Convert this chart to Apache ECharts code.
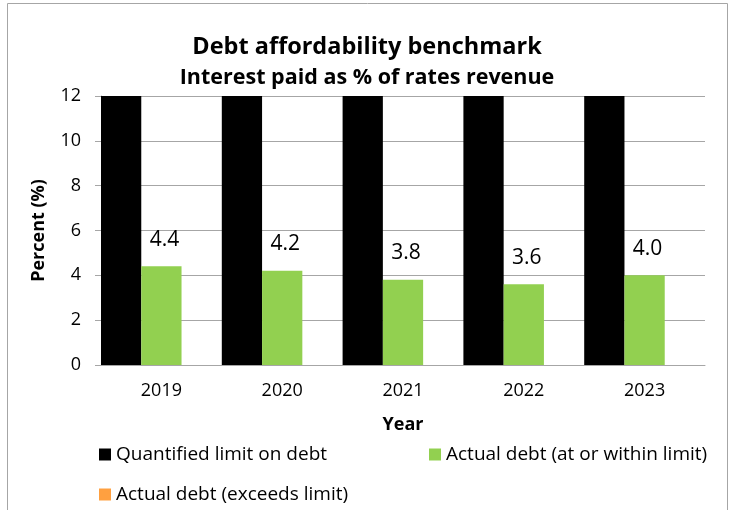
<!DOCTYPE html>
<html>
<head>
<meta charset="utf-8">
<script src="https://cdn.jsdelivr.net/npm/echarts@6/dist/echarts.min.js"></script>
<style>
  html, body { margin: 0; padding: 0; background: #fff; }
  #chart { width: 734px; height: 510px; }
</style>
</head>
<body>
<div id="chart"></div>
<script>
  // data
  var years = ['2019', '2020', '2021', '2022', '2023'];
  var limitValues = [12, 12, 12, 12, 12];
  var actualValues = [4.4, 4.2, 3.8, 3.6, 4.0];
  var exceedsValues = [null, null, null, null, null];
  var yTicks = [0, 2, 4, 6, 8, 10, 12];

  var font = 'Open Sans';
  var chart = echarts.init(document.getElementById('chart'));

  chart.setOption({
    animation: false,
    backgroundColor: '#fff',
    textStyle: { fontFamily: font, color: '#000' },
    graphic: [
      {
        type: 'rect',
        shape: { x: 7.5, y: 3.5, width: 720, height: 520 },
        style: { fill: 'none', stroke: '#a6a6a6', lineWidth: 1 },
        silent: true
      }
    ],
    title: [
      {
        text: 'Debt affordability benchmark',
        left: 'center',
        top: 30,
        textStyle: { fontFamily: font, fontSize: 23.5, fontWeight: 'bold', color: '#000' }
      },
      {
        text: 'Interest paid as % of rates revenue',
        left: 'center',
        top: 62,
        textStyle: { fontFamily: font, fontSize: 21.5, fontWeight: 'bold', color: '#000' }
      }
    ],
    legend: [
      {
        data: ['Quantified limit on debt'],
        left: 94, top: 440,
        itemWidth: 12, itemHeight: 12,
        icon: 'rect',
        textStyle: { fontFamily: font, fontSize: 19, color: '#000' }
      },
      {
        data: ['Actual debt (at or within limit)'],
        left: 424, top: 440,
        itemWidth: 12, itemHeight: 12,
        icon: 'rect',
        textStyle: { fontFamily: font, fontSize: 19, color: '#000' }
      },
      {
        data: ['Actual debt (exceeds limit)'],
        left: 94, top: 480,
        itemWidth: 12, itemHeight: 12,
        icon: 'rect',
        textStyle: { fontFamily: font, fontSize: 19, color: '#000' }
      }
    ],
    grid: { left: 101, right: 29, top: 96, bottom: 145 },
    xAxis: {
      type: 'category',
      data: years,
      name: 'Year',
      nameLocation: 'middle',
      nameGap: 51,
      nameTextStyle: { fontFamily: font, fontSize: 18, fontWeight: 'bold', color: '#000' },
      axisLine: { lineStyle: { color: '#a6a6a6' } },
      axisTick: { show: false },
      axisLabel: { fontFamily: font, fontSize: 18, color: '#000', margin: 17 }
    },
    yAxis: {
      type: 'value',
      min: yTicks[0],
      max: yTicks[yTicks.length - 1],
      interval: 2,
      name: 'Percent (%)',
      nameLocation: 'middle',
      nameGap: 53,
      nameTextStyle: { fontFamily: font, fontSize: 18, fontWeight: 'bold', color: '#000' },
      axisLine: { show: true, lineStyle: { color: '#a6a6a6' } },
      axisTick: { show: true, length: 6, lineStyle: { color: '#a6a6a6' } },
      axisLabel: { fontFamily: font, fontSize: 18, color: '#000', margin: 20 },
      splitLine: { lineStyle: { color: '#a6a6a6' } }
    },
    series: [
      {
        name: 'Quantified limit on debt',
        type: 'bar',
        data: limitValues,
        barGap: '0%',
        barCategoryGap: '0%',
        itemStyle: { color: '#000' }
      },
      {
        name: 'Actual debt (at or within limit)',
        type: 'bar',
        data: actualValues,
        itemStyle: { color: '#92d050' },
        label: {
          show: true,
          position: 'top',
          distance: 16,
          offset: [3, 0],
          formatter: function (p) { return p.value.toFixed(1); },
          fontFamily: font,
          fontSize: 21,
          color: '#000'
        }
      },
      {
        name: 'Actual debt (exceeds limit)',
        type: 'bar',
        data: exceedsValues,
        itemStyle: { color: '#ffa040' }
      }
    ]
  });
</script>
</body>
</html>
